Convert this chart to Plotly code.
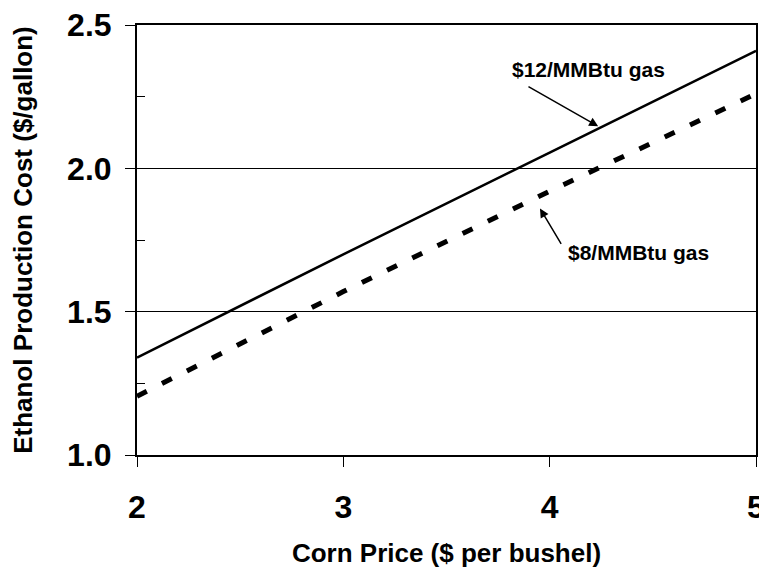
import plotly.graph_objects as go

corn_price = [2, 3, 4, 5]
cost_12 = [1.34, 1.70, 2.055, 2.41]
cost_8 = [1.205, 1.57, 1.92, 2.26]

x_ticks = [2, 3, 4, 5]
y_ticks = [1.0, 1.5, 2.0, 2.5]
y_tick_text = ["1.0", "1.5", "2.0", "2.5"]
y_minor = [1.25, 1.75, 2.25]

FONT = "Arial, Liberation Sans, sans-serif"

fig = go.Figure()
fig.add_trace(go.Scatter(x=corn_price, y=cost_12, mode="lines",
                         line=dict(color="black", width=2.5), showlegend=False))
fig.add_trace(go.Scatter(x=corn_price, y=cost_8, mode="lines",
                         line=dict(color="black", width=5, dash="11px,17px"), showlegend=False))

fig.add_annotation(x=4.19, y=2.345, text="<b>$12/MMBtu gas</b>", showarrow=False,
                   font=dict(family=FONT, size=21, color="black"))
fig.add_annotation(x=4.43, y=1.705, text="<b>$8/MMBtu gas</b>", showarrow=False,
                   font=dict(family=FONT, size=21, color="black"))
fig.add_annotation(x=4.235, y=2.147, ax=3.89, ay=2.288, axref="x", ayref="y",
                   text="", showarrow=True, arrowhead=2, arrowsize=1.2, arrowwidth=1.5,
                   arrowcolor="black")
fig.add_annotation(x=3.953, y=1.86, ax=4.06, ay=1.731, axref="x", ayref="y",
                   text="", showarrow=True, arrowhead=2, arrowsize=1.2, arrowwidth=1.5,
                   arrowcolor="black")

fig.update_layout(
    width=759, height=560,
    margin=dict(l=129, r=11, t=17, b=113),
    paper_bgcolor="white", plot_bgcolor="white",
    font=dict(family=FONT, color="black"),
)
fig.update_xaxes(
    range=[2, 5], tickvals=x_ticks, ticktext=[str(v) for v in x_ticks],
    automargin=False, ticklabeloverflow="allow",
    showgrid=False, zeroline=False,
    showline=True, linecolor="black", linewidth=2, mirror=True,
    ticks="outside", ticklen=10, tickcolor="black", tickwidth=1,
    tickfont=dict(family=FONT, size=32, color="black", weight="bold"),
    ticklabelstandoff=13,
    title=dict(text="<b>Corn Price ($ per bushel)</b>", font=dict(family=FONT, size=26, color="black"),
               standoff=22),
)
fig.update_yaxes(
    range=[1.0, 2.5], tickvals=y_ticks, ticktext=y_tick_text,
    automargin=False, ticklabeloverflow="allow",
    showgrid=True, gridcolor="black", gridwidth=1, zeroline=False,
    showline=True, linecolor="black", linewidth=2, mirror=True,
    ticks="outside", ticklen=10, tickcolor="black", tickwidth=1,
    tickfont=dict(family=FONT, size=32, color="black", weight="bold"),
    ticklabelstandoff=7,
    minor=dict(tickvals=y_minor, ticks="inside", ticklen=8, tickcolor="black", showgrid=False),
    title=dict(text="<b>Ethanol Production Cost ($/gallon)</b>", font=dict(family=FONT, size=26, color="black"),
               standoff=31),
)

fig.write_html("out.html")
